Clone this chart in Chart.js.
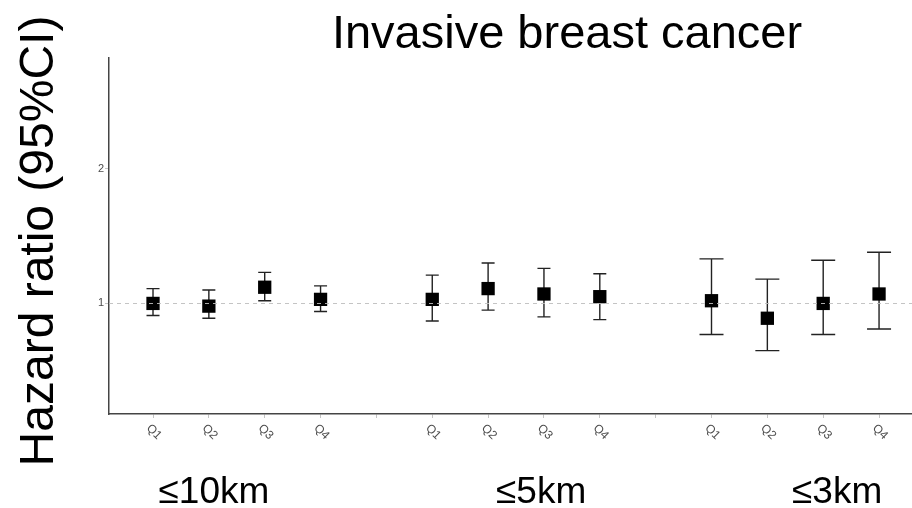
<!DOCTYPE html>
<html>
<head>
<meta charset="utf-8">
<script src="https://cdn.jsdelivr.net/npm/chart.js@4.4.1/dist/chart.umd.min.js"></script>
<style>
  html, body { margin: 0; padding: 0; background: #ffffff; }
  #wrap { width: 912px; height: 508px; position: relative; }
</style>
</head>
<body>
<div id="wrap"><canvas id="c"></canvas></div>
<script>
// ---- data ----
const chartTitle = 'Invasive breast cancer';
const yTitle = 'Hazard ratio (95%CI)';
const groups = ['≤10km', '≤5km', '≤3km'];
const quartiles = ['Q1', 'Q2', 'Q3', 'Q4'];

const hr10 = [1.00, 0.98, 1.12, 1.03];
const lo10 = [0.91, 0.89, 1.02, 0.94];
const hi10 = [1.11, 1.10, 1.23, 1.13];

const hr5 = [1.03, 1.11, 1.07, 1.05];
const lo5 = [0.87, 0.95, 0.90, 0.88];
const hi5 = [1.21, 1.30, 1.26, 1.22];

const hr3 = [1.02, 0.89, 1.00, 1.07];
const lo3 = [0.77, 0.65, 0.77, 0.81];
const hi3 = [1.33, 1.18, 1.32, 1.38];

const yTickValues = [1, 2];
const yTickLabels = ['1', '2'];
const refValue = 1;

// ---- build category slots: Q1..Q4, gap, Q1..Q4, gap, Q1..Q4 ----
const hrSets = [hr10, hr5, hr3];
const loSets = [lo10, lo5, lo3];
const hiSets = [hi10, hi5, hi3];
const categories = [];
const points = [];
groups.forEach((g, gi) => {
  quartiles.forEach((q, qi) => {
    categories.push(q);
    points.push({ x: categories.length, y: hrSets[gi][qi], lo: loSets[gi][qi], hi: hiSets[gi][qi], g: gi });
  });
  if (gi < groups.length - 1) categories.push('');
});

// ---- styling ----
const FONT = '"Liberation Sans", Arial, sans-serif';
const capWidths = [13, 13, 24];          // error-bar cap width per distance group
const groupLabelAt = [2.09, 7.95, 13.25]; // x-scale value where each group label is centred

const errorBars = {
  id: 'errorBars',
  beforeDatasetsDraw(chart) {
    const { ctx, scales: { x, y } } = chart;
    ctx.save();
    ctx.strokeStyle = '#222222';
    ctx.lineWidth = 1.4;
    points.forEach(p => {
      const px = x.getPixelForValue(p.x);
      const yl = y.getPixelForValue(p.lo);
      const yh = y.getPixelForValue(p.hi);
      const hw = capWidths[p.g] / 2;
      ctx.beginPath();
      ctx.moveTo(px, yl); ctx.lineTo(px, yh);
      ctx.moveTo(px - hw, yl); ctx.lineTo(px + hw, yl);
      ctx.moveTo(px - hw, yh); ctx.lineTo(px + hw, yh);
      ctx.stroke();
    });
    ctx.restore();
  },
  afterDatasetsDraw(chart) {
    const { ctx, chartArea, scales: { y } } = chart;
    const py = Math.round(y.getPixelForValue(refValue)) + 0.5;
    ctx.save();
    ctx.strokeStyle = 'rgba(190,190,190,0.9)';
    ctx.lineWidth = 1;
    ctx.setLineDash([4, 4]);
    ctx.beginPath();
    ctx.moveTo(chartArea.left, py);
    ctx.lineTo(chartArea.right, py);
    ctx.stroke();
    ctx.restore();
  }
};

const textLayer = {
  id: 'textLayer',
  afterDraw(chart) {
    const { ctx, chartArea, scales: { x } } = chart;
    ctx.save();
    ctx.fillStyle = '#000000';
    // main title
    ctx.font = '47px ' + FONT;
    ctx.textAlign = 'center';
    ctx.textBaseline = 'alphabetic';
    ctx.fillText(chartTitle, 567, 48);

    // y-axis title
    ctx.save();
    ctx.translate(53, 241);
    ctx.rotate(-Math.PI / 2);
    ctx.font = '48px ' + FONT;
    ctx.fillText(yTitle, 0, 0);
    ctx.restore();

    // category tick labels, turned 45° clockwise
    ctx.fillStyle = '#4d4d4d';
    ctx.font = '12px ' + FONT;
    ctx.textAlign = 'center';
    ctx.textBaseline = 'middle';
    categories.forEach((lab, i) => {
      if (!lab) return;
      const px = x.getPixelForValue(i + 1);
      ctx.save();
      ctx.translate(px + 1, chartArea.bottom + 18);
      ctx.rotate(Math.PI / 4);
      ctx.fillText(lab, 0, 0);
      ctx.restore();
    });

    // distance group labels
    ctx.fillStyle = '#000000';
    ctx.font = '37px ' + FONT;
    ctx.textAlign = 'center';
    ctx.textBaseline = 'alphabetic';
    groups.forEach((g, gi) => {
      ctx.fillText(g, x.getPixelForValue(groupLabelAt[gi]), 503);
    });
    ctx.restore();
  }
};

new Chart(document.getElementById('c'), {
  type: 'scatter',
  data: {
    datasets: [{
      data: points,
      pointStyle: 'rect',
      pointRadius: 9.4,
      pointHoverRadius: 9.4,
      backgroundColor: '#000000',
      borderWidth: 0,
      clip: false
    }]
  },
  options: {
    responsive: true,
    maintainAspectRatio: false,
    animation: false,
    events: [],
    layout: { autoPadding: false, padding: { top: 58, right: 0, bottom: 0, left: 0 } },
    plugins: { legend: { display: false }, tooltip: { enabled: false }, title: { display: false } },
    scales: {
      x: {
        type: 'linear',
        min: 0.212,
        max: 14.59,
        afterBuildTicks: s => { s.ticks = categories.map((_, i) => ({ value: i + 1 })); },
        afterFit: s => { s.height = 94; },
        ticks: { display: false },
        grid: { drawOnChartArea: false, drawTicks: true, tickLength: 4, color: '#c4c4c4', lineWidth: 1 },
        border: { display: true, color: '#444444', width: 1.5 }
      },
      y: {
        type: 'linear',
        min: 0.18,
        max: 2.82,
        afterBuildTicks: s => { s.ticks = yTickValues.map(v => ({ value: v })); },
        afterFit: s => { s.width = 109; },
        ticks: {
          padding: 1,
          color: '#4d4d4d',
          font: { family: FONT, size: 11 },
          callback: v => yTickLabels[yTickValues.indexOf(v)]
        },
        grid: { drawOnChartArea: false, drawTicks: true, tickLength: 4, color: '#c4c4c4', lineWidth: 1 },
        border: { display: true, color: '#444444', width: 1.5 }
      }
    }
  },
  plugins: [errorBars, textLayer]
});
</script>
</body>
</html>
